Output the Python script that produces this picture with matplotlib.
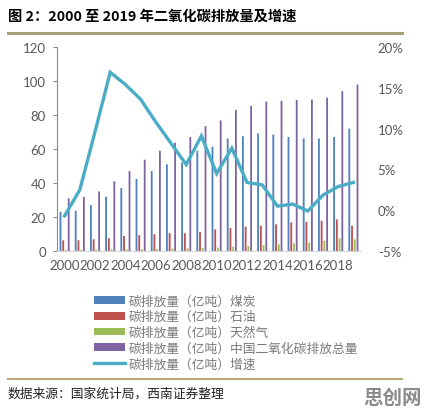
import numpy as np
import matplotlib.pyplot as plt
from matplotlib.patches import Patch
from matplotlib.lines import Line2D

plt.rcParams['font.family'] = ['Noto Sans CJK SC', 'DejaVu Sans']

years = list(range(2000, 2020))
coal = [23, 23.7, 27, 32, 37, 42.4, 47, 51, 52, 59, 61.3, 66.2, 67.5, 69.1, 68.5, 67.1, 66.2, 66.2, 67, 72]
oil = [6.3, 6.3, 6.9, 7.5, 8.9, 9.3, 9.9, 10.5, 10.5, 11.2, 12.7, 13.5, 14.3, 14.9, 15.7, 16.8, 17.2, 17.8, 18.6, 14.9]
gas = [0.6, 0.6, 0.7, 0.8, 0.9, 1.0, 1.2, 1.4, 1.6, 1.8, 2.0, 2.5, 2.9, 3.5, 3.9, 4.5, 5.0, 6.0, 7.4, 6.9]
total = [31, 31.8, 35, 41, 47, 53.7, 59, 63.7, 67, 73.5, 76.8, 82.9, 85.4, 87.9, 88.3, 88.9, 89.1, 90.2, 94, 97.9]
growth = [-0.7, 2.5, 9.6, 16.9, 15.4, 13.6, 10.8, 8.2, 5.6, 9.1, 4.5, 7.6, 3.4, 3.1, 0.5, 0.75, -0.1, 1.85, 2.9, 3.4]

series_labels = ['碳排放量（亿吨）煤炭', '碳排放量（亿吨）石油', '碳排放量（亿吨）天然气',
                 '碳排放量（亿吨）中国二氧化碳排放总量', '碳排放量（亿吨）增速']
colors = ['#4F81BD', '#C0504D', '#9BBB59', '#8064A2']
line_color = '#4BACC6'

fig = plt.figure(figsize=(4.28, 4.14), dpi=100)
ax = fig.add_axes([57 / 428, 1 - 252 / 414, (361 - 57) / 428, (252 - 48) / 414])

x = np.arange(len(years))
step = 0.18
width = 0.12
for i, (vals, c) in enumerate(zip([coal, oil, gas, total], colors)):
    bars = ax.bar(x + (i - 1.5) * step, vals, width=width, color=c, linewidth=0)
    for b in bars:
        b.set_snap(False)

ax.set_xlim(-0.5, len(years) - 0.5)
ax.set_ylim(0, 120)
ax.set_yticks(range(0, 121, 20))
ax.set_xticks(x[::2])
ax.set_xticklabels([str(y) for y in years[::2]])
for s in ['top', 'right']:
    ax.spines[s].set_visible(False)
ax.spines['left'].set_color('#8c8c8c')
ax.spines['bottom'].set_color('#d9d9d9')
ax.tick_params(axis='y', colors='#8c8c8c', labelcolor='#595959', labelsize=9.5, length=3, pad=5)
ax.tick_params(axis='x', length=0, labelcolor='#595959', labelsize=9.5, pad=6)
for lab in ax.get_xticklabels() + ax.get_yticklabels():
    lab.set_family(['Lato', 'DejaVu Sans'])

ax2 = ax.twinx()
ax2.plot(x, growth, color=line_color, linewidth=2.4, solid_joinstyle='miter')
ax2.set_ylim(-5, 20)
ax2.set_yticks(range(-5, 21, 5))
ax2.set_yticklabels([f'{v}%' for v in range(-5, 21, 5)])
for s in ax2.spines.values():
    s.set_visible(False)
ax2.tick_params(axis='y', length=0, labelcolor='#595959', labelsize=9.5, pad=12)
for lab in ax2.get_yticklabels():
    lab.set_family(['Lato', 'DejaVu Sans'])

handles = [Patch(facecolor=c, edgecolor='none') for c in colors]
handles.append(Line2D([0], [0], color=line_color, linewidth=2.4))
fig.legend(handles, series_labels, loc='upper left', bbox_to_anchor=(88 / 428, 1 - 289 / 414),
           frameon=False, fontsize=9.2, labelcolor='#7a7a7a', handlelength=2.4,
           handleheight=0.55, handletextpad=0.3, labelspacing=0.22, borderpad=0)

fig.text(8 / 428, 1 - 17 / 414, '图 2：2000 至 2019 年二氧化碳排放量及增速', fontsize=10.3,
         fontweight='bold', va='center', ha='left')
fig.add_artist(Line2D([8 / 428, 402 / 428], [1 - 34 / 414] * 2, color='#a69f7a', linewidth=2.2))
fig.add_artist(Line2D([8 / 428, 402 / 428], [1 - 380 / 414] * 2, color='#b8a77a', linewidth=1.5))
fig.text(8 / 428, 1 - 394 / 414, '数据来源：国家统计局，西南证券整理', fontsize=9.2, style='italic',
         va='center', ha='left', color='#222222')
fig.text(422 / 428, 1 - 398 / 414, '思创网', fontsize=14, fontweight='bold', color='#8a8a8a',
         va='center', ha='right')

fig.savefig('out.png', dpi=100)
